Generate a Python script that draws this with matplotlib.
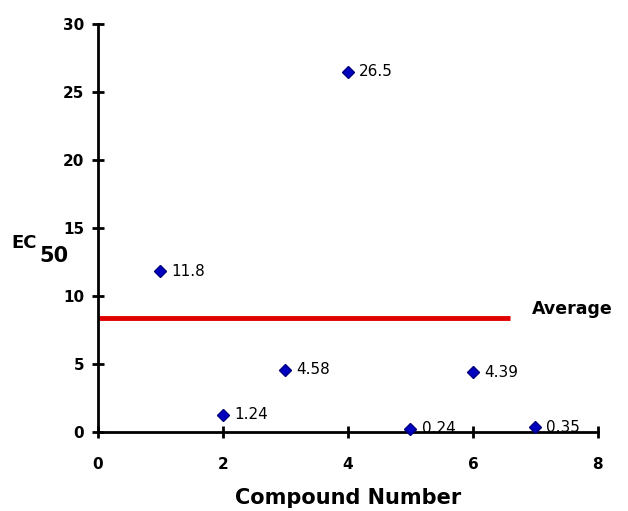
import matplotlib
matplotlib.use("Agg")
import matplotlib.pyplot as plt

# data
compounds = [1, 2, 3, 4, 5, 6, 7]
ec50 = [11.8, 1.24, 4.58, 26.5, 0.24, 4.39, 0.35]
labels = ["11.8", "1.24", "4.58", "26.5", "0.24", "4.39", "0.35"]
average = 8.4
avg_x = [0, 6.6]

fig = plt.figure(figsize=(6.28, 5.11), dpi=100)
ax = fig.add_axes([0.156, 0.155, 0.796, 0.798])

ax.plot(avg_x, [average, average], color="#e00000", lw=3.5, solid_capstyle="butt", clip_on=False)
ax.plot(compounds, ec50, linestyle="none", marker="D", markersize=6,
        color="#0000c0", markeredgecolor="#000080", clip_on=False, zorder=3)

for x, y, t in zip(compounds, ec50, labels):
    ax.annotate(t, (x, y), xytext=(8, 0), textcoords="offset points",
                va="center", ha="left", fontsize=11, family="DejaVu Sans")

ax.text(6.95, average, "Average", fontsize=12.5, fontweight="bold",
        va="bottom", ha="left", clip_on=False)

ax.set_xlim(0, 8)
ax.set_ylim(0, 30)
ax.set_xticks([0, 2, 4, 6, 8])
ax.set_yticks([0, 5, 10, 15, 20, 25, 30])
ax.spines["top"].set_visible(False)
ax.spines["right"].set_visible(False)
ax.spines["left"].set_linewidth(2)
ax.spines["bottom"].set_linewidth(2)
ax.tick_params(direction="inout", length=8, width=2, labelsize=11, pad=6)
ax.tick_params(axis="x", pad=14)
for lab in ax.get_xticklabels() + ax.get_yticklabels():
    lab.set_fontweight("bold")

ax.set_xlabel("Compound Number", fontsize=15, fontweight="bold", labelpad=12)
fig.text(0.018, 0.525, "EC", fontsize=13, fontweight="bold", va="center")
fig.text(0.062, 0.5, "50", fontsize=15, fontweight="bold", va="center")

fig.savefig("out.png", dpi=100)
